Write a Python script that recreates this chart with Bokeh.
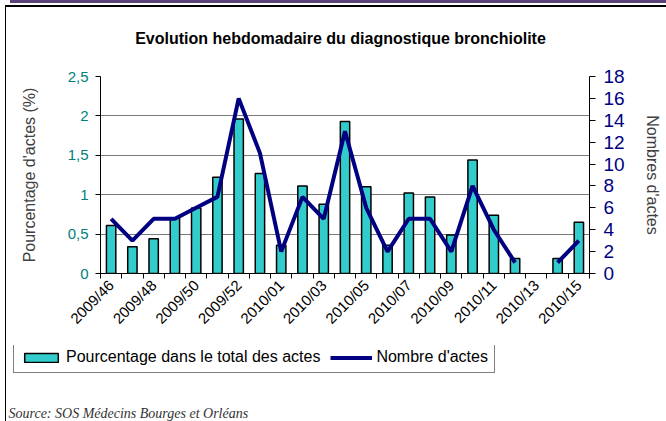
import math
from bokeh.plotting import figure
from bokeh.layouts import column
from bokeh.models import (Range1d, LinearAxis, FixedTicker, Legend, LegendItem,
                          Label, InlineStyleSheet)
from bokeh.embed import file_html
from bokeh.resources import INLINE

NaN = float("nan")

weeks = ["2009/46", "2009/47", "2009/48", "2009/49", "2009/50", "2009/51",
         "2009/52", "2009/53", "2010/01", "2010/02", "2010/03", "2010/04",
         "2010/05", "2010/06", "2010/07", "2010/08", "2010/09", "2010/10",
         "2010/11", "2010/12", "2010/13", "2010/14", "2010/15"]
pourcentage = [0.61, 0.34, 0.44, 0.70, 0.83, 1.22, 1.96, 1.27, 0.36, 1.11,
               0.88, 1.93, 1.10, 0.36, 1.02, 0.97, 0.49, 1.44, 0.74, 0.19,
               NaN, 0.19, 0.65]
nombre = [5, 3, 5, 5, 6, 7, 16, 11, 2, 7, 5, 13, 6, 2, 5, 5, 2, 8, 4, 1,
          NaN, 1, 3]
left_ticks = [0, 0.5, 1, 1.5, 2, 2.5]
left_tick_labels = ["0", "0,5", "1", "1,5", "2", "2,5"]
right_ticks = [0, 2, 4, 6, 8, 10, 12, 14, 16, 18]

title_text = "Evolution hebdomadaire du diagnostique bronchiolite"
source_text = "Source: SOS Médecins Bourges et Orléans"
series_names = ["Pourcentage dans le total des actes", "Nombre d'actes"]

FONT = "Liberation Sans"
BAR_FILL = "#33CCCC"
LINE_COL = "#000080"
W = 666
n = len(weeks)
xs = [i + 0.5 for i in range(n)]


def blank(height):
    f = figure(width=W, height=height, output_backend="svg", toolbar_location=None,
               x_range=Range1d(0, W), y_range=Range1d(height, 0),
               x_axis_type=None, y_axis_type=None, frame_align=False,
               min_border_left=0, min_border_right=0, min_border_top=0,
               min_border_bottom=0)
    f.grid.visible = False
    f.outline_line_color = None
    f.background_fill_color = "white"
    f.border_fill_color = "white"
    return f


# ---- top strip with title ----
top = blank(60)
top.add_layout(Label(x=340, y=38, text=title_text, text_align="center",
                     text_baseline="middle", text_font=FONT,
                     text_font_size="16px", text_font_style="bold",
                     text_color="black"))

# ---- main chart ----
p = figure(width=W, height=285, output_backend="svg", toolbar_location=None,
           x_range=Range1d(0, n), y_range=Range1d(0, 2.5), frame_align=False,
           min_border_left=100, min_border_right=77, min_border_top=16,
           min_border_bottom=72)
p.background_fill_color = "white"
p.border_fill_color = "white"
p.outline_line_color = None
p.xgrid.visible = False

ya = p.yaxis[0]
ya.ticker = FixedTicker(ticks=left_ticks, minor_ticks=[])
ya.major_label_overrides = dict(zip(left_ticks, left_tick_labels))
ya.axis_line_color = "black"
ya.major_tick_line_color = "black"
ya.major_tick_out = 5
ya.major_tick_in = 0
ya.major_label_standoff = 7
ya.major_label_text_color = "#008080"
ya.major_label_text_font = FONT
ya.major_label_text_font_size = "15px"
ya.axis_label = "Pourcentage d'actes (%)"
ya.axis_label_text_font = FONT
ya.axis_label_text_font_size = "16px"
ya.axis_label_text_font_style = "normal"
ya.axis_label_text_color = "#404040"
ya.axis_label_standoff = 27

p.ygrid.grid_line_color = "#7a7a7a"
p.ygrid.grid_line_width = 1

xa = p.xaxis[0]
label_idx = list(range(0, n, 2))
xa.ticker = FixedTicker(ticks=[xs[i] for i in label_idx], minor_ticks=list(range(n + 1)))
xa.major_label_overrides = {xs[i]: weeks[i] for i in label_idx}
xa.major_tick_out = 0
xa.major_tick_in = 0
xa.minor_tick_out = 5
xa.minor_tick_in = 0
xa.minor_tick_line_color = "black"
xa.axis_line_color = "black"
xa.major_label_orientation = math.pi / 4
xa.major_label_text_font = FONT
xa.major_label_text_font_size = "15px"
xa.major_label_text_color = "black"
xa.major_label_standoff = 4

p.extra_y_ranges = {"n": Range1d(0, 18)}
ra = LinearAxis(y_range_name="n", ticker=FixedTicker(ticks=right_ticks, minor_ticks=[]))
ra.axis_line_color = "black"
ra.major_tick_line_color = "black"
ra.major_tick_out = 6
ra.major_tick_in = 0
ra.major_label_standoff = 8
ra.major_label_text_color = LINE_COL
ra.major_label_text_font = FONT
ra.major_label_text_font_size = "19px"
ra.axis_label = "Nombres d'actes"
ra.axis_label_text_font = FONT
ra.axis_label_text_font_size = "16px"
ra.axis_label_text_font_style = "normal"
ra.axis_label_text_color = "#404040"
ra.axis_label_standoff = 16
p.add_layout(ra, "right")

p.vbar(x=xs, top=pourcentage, width=0.44, fill_color=BAR_FILL,
       line_color="black", line_width=1.5)
p.line(xs, nombre, y_range_name="n", line_color=LINE_COL, line_width=4)

# ---- bottom strip: legend + source ----
bot = blank(76)
# legend-only renderers (a single NaN row: nothing is drawn in the strip)
lb = bot.vbar(x=[NaN], top=[NaN], width=1, fill_color=BAR_FILL, line_color="black",
              line_width=1.5)
ll = bot.line(x=[NaN], y=[NaN], line_color=LINE_COL, line_width=4)
legend = Legend(items=[LegendItem(label=series_names[0], renderers=[lb]),
                       LegendItem(label=series_names[1], renderers=[ll])],
                orientation="horizontal", location=(13, 48), margin=0,
                padding=6, spacing=10, label_standoff=4, glyph_width=42,
                glyph_height=11, label_height=18,
                label_text_font=FONT, label_text_font_size="16px",
                label_text_color="black",
                border_line_color="black", border_line_width=1,
                background_fill_color="white", background_fill_alpha=1)
bot.add_layout(legend)
bot.add_layout(Label(x=8, y=68, text=source_text, text_align="left",
                     text_baseline="alphabetic", text_font="Liberation Serif",
                     text_font_size="14px", text_font_style="italic",
                     text_color="#333333"))

frame_css = InlineStyleSheet(css="""
:host { position: relative; }
:host::before { content: ""; position: absolute; left: 5px; top: 5px;
  right: -20px; bottom: -20px; border-left: 1.5px solid black;
  border-top: 2px solid black; z-index: 10; pointer-events: none; }
:host::after { content: ""; position: absolute; left: 10px; right: 0; top: 0;
  height: 3px; background: #5b4279; z-index: 10; pointer-events: none; }
""")

layout = column(top, p, bot, spacing=0, stylesheets=[frame_css])

open("out.html", "w").write(file_html(layout, INLINE))
